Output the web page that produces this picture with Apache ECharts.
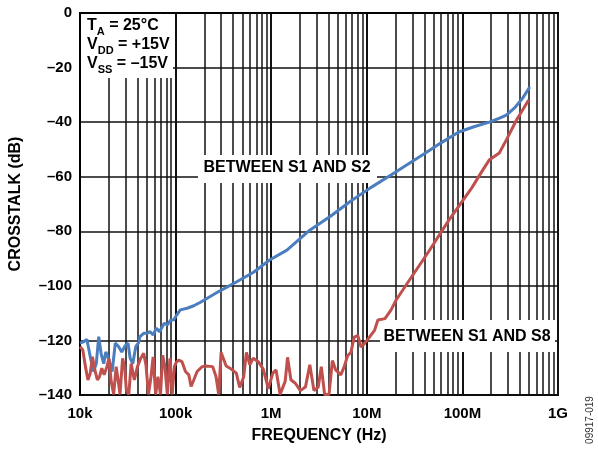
<!DOCTYPE html>
<html>
<head>
<meta charset="utf-8">
<script src="https://cdn.jsdelivr.net/npm/echarts@6/dist/echarts.min.js"></script>
<style>
html,body{margin:0;padding:0;background:#fff;}
#chart{width:598px;height:452px;}
</style>
</head>
<body>
<div id="chart"></div>
<script>
// ---- data (frequency in Hz, crosstalk in dB) ----
const freqS1S2 = [10000,11000,11800,12800,13800,14800,15700,16600,17700,18600,20100,21700,23400,25300,27300,29400,31800,33500,35600,38400,40800,42400,46300,50100,54100,58200,63000,67900,76000,82000,88700,95500,103000,112000,132000,155000,182000,285000,432000,653000,964000,1460000,2550000,4170000,6760000,11000000,17900000,41100000,60300000,91800000,132000000,191000000,245000000,288000000,351000000,427000000,506000000];
const xtalkS1S2 = [-121,-120.4,-119.6,-126,-131.4,-128.5,-118.6,-124.7,-128.5,-124.2,-127.2,-131.4,-121,-122.2,-124.2,-122.2,-121,-126.6,-128.5,-122.2,-121,-118.6,-117.4,-117.4,-116.8,-118,-115.5,-116.8,-113.7,-114.3,-112.5,-112.5,-110.6,-108.8,-108.2,-107.3,-106,-102,-98.6,-95,-90.5,-86.9,-79.5,-74.5,-69,-64,-59.4,-51.3,-47.5,-43.6,-41.7,-40,-38.5,-37.4,-34.8,-31.2,-27.1];

const freqS1S8 = [10000,10700,11400,12100,12800,13500,14300,15200,16000,16900,17900,19100,20100,21200,22500,23900,25300,26200,27900,29400,30500,32400,34300,37000,39900,43100,46300,49000,52000,55300,58200,61900,65300,69500,73300,77300,82000,87300,92000,97100,101600,107600,116700,126800,137400,145200,154900,167900,189700,207500,244300,264900,282500,299200,338100,381900,431500,467700,515200,550800,597000,648600,732800,826000,933300,1038000,1125000,1239000,1400000,1483000,1607000,1786000,2018000,2280000,2535000,2799000,3105000,3342000,3622000,4027000,4365000,4732000,5346000,5808000,6295000,6823000,7379000,8035000,8710000,9441000,10670000,12050000,13060000,15490000,17950000,20280000,27160000,44260000,71940000,125900000,157000000,190500000,243200000,288400000,368100000,493300000];
const xtalkS1S8 = [-122.3,-123.5,-129.6,-134.5,-132,-126,-130.8,-134.5,-133.3,-130.2,-132.6,-129.6,-126.6,-135,-139.8,-129.6,-135.7,-139.8,-126.6,-130.2,-138,-139.8,-128.5,-134.5,-129.6,-126.6,-124.7,-129,-139.8,-133.3,-126,-139.8,-133.3,-139.8,-125.4,-129.6,-139.8,-126.6,-139.8,-129.6,-128,-127.2,-127.8,-131.4,-132.6,-136.9,-134.5,-131.4,-129.6,-129.4,-129.6,-133.3,-139.8,-124.4,-129.4,-130.5,-132,-137.2,-133.4,-124.4,-128.9,-126.5,-127.8,-130.5,-137.7,-132,-130.8,-139.8,-135,-126.2,-134.4,-135.7,-138.4,-137.1,-128.9,-138.4,-137.1,-129.6,-139.8,-139.8,-127.4,-130.8,-132.6,-129.6,-125.6,-124.4,-118.8,-118.2,-122.4,-121.2,-118.8,-116.3,-112.5,-112,-108.8,-105.2,-98.5,-87.5,-76,-64,-58.5,-53.9,-51.3,-46.5,-39.2,-31.9];

const xTickValues = [1e4, 1e5, 1e6, 1e7, 1e8, 1e9];
const xTickLabels = ['10k', '100k', '1M', '10M', '100M', '1G'];
const yTicks = [0, -20, -40, -60, -80, -100, -120, -140];

// minor vertical grid positions (2..9 in each decade)
const minorGrid = [];
for (let d = 0; d < xTickValues.length - 1; d++) {
  for (let k = 2; k <= 9; k++) minorGrid.push(k * xTickValues[d]);
}

const FONT = 'Liberation Sans, Arial, sans-serif';
const chart = echarts.init(document.getElementById('chart'), null, {renderer: 'canvas'});

function pairs(xs, ys) { return xs.map((x, i) => [x, ys[i]]); }
function txt(x, y, s, size, align) {
  return {type: 'text', z: 7, x: x, y: y, style: {text: s, font: 'bold ' + size + 'px ' + FONT, fill: '#000', textAlign: align || 'left', textVerticalAlign: 'middle'}};
}

const option = {
  animation: false,
  backgroundColor: '#fff',
  grid: {left: 79, right: 40, top: 13, bottom: 57, show: true, borderColor: '#000', borderWidth: 2, backgroundColor: 'transparent'},
  xAxis: {
    type: 'log', logBase: 10, min: xTickValues[0], max: xTickValues[xTickValues.length - 1],
    splitNumber: 5,
    name: 'FREQUENCY (Hz)', nameLocation: 'middle', nameGap: 33,
    nameTextStyle: {fontFamily: FONT, fontWeight: 'bold', fontSize: 16, color: '#000'},
    axisLine: {show: true, lineStyle: {color: '#000', width: 2}},
    axisTick: {show: false},
    axisLabel: {
      margin: 11, fontFamily: FONT, fontWeight: 'bold', fontSize: 15, color: '#000',
      formatter: v => { const i = xTickValues.findIndex(t => Math.abs(Math.log10(t) - Math.log10(v)) < 1e-6); return i >= 0 ? xTickLabels[i] : ''; }
    },
    splitLine: {show: true, lineStyle: {color: '#111', width: 2}}
  },
  yAxis: {
    type: 'value', min: yTicks[yTicks.length - 1], max: yTicks[0], interval: 20,
    name: 'CROSSTALK (dB)', nameLocation: 'middle', nameGap: 56, nameRotate: 90,
    nameTextStyle: {fontFamily: FONT, fontWeight: 'bold', fontSize: 16, color: '#000'},
    axisLine: {show: true, lineStyle: {color: '#000', width: 2}},
    axisTick: {show: false},
    axisLabel: {
      margin: 8, fontFamily: FONT, fontWeight: 'bold', fontSize: 15, color: '#000',
      formatter: v => String(v).replace('-', '\u2013')
    },
    splitLine: {show: true, lineStyle: {color: '#111', width: 1.6}}
  },
  graphic: [
    {type: 'rect', z: 6, shape: {x: 81, y: 14, width: 92, height: 64}, style: {fill: '#fff'}},
    txt(87, 26, 'T', 16), txt(96.8, 32, 'A', 11), txt(104.7, 26, ' = 25°C', 16),
    txt(87, 45, 'V', 16), txt(97.7, 51, 'DD', 11), txt(113.6, 45, ' = +15V', 16),
    txt(87, 64, 'V', 16), txt(97.7, 70, 'SS', 11), txt(112.4, 64, ' = \u201315V', 16),
    {type: 'rect', z: 6, shape: {x: 198, y: 155, width: 179, height: 28}, style: {fill: '#fff'}},
    txt(287, 168, 'BETWEEN S1 AND S2', 16, 'center'),
    {type: 'rect', z: 6, shape: {x: 380, y: 320, width: 175, height: 32}, style: {fill: '#fff'}},
    txt(467, 337, 'BETWEEN S1 AND S8', 16, 'center'),
    {type: 'text', z: 7, x: 590, y: 420, rotation: Math.PI / 2, style: {text: '09917-019', font: '10px ' + FONT, fill: '#333', textAlign: 'center', textVerticalAlign: 'middle'}}
  ],
  series: [
    {
      type: 'line', name: 'grid', data: [], z: 0, silent: true,
      markLine: {
        silent: true, symbol: 'none', label: {show: false}, animation: false, z: 1,
        lineStyle: {color: '#111', width: 1.5, type: 'solid'},
        data: minorGrid.map(v => ({xAxis: v}))
      }
    },
    {
      type: 'line', name: 'BETWEEN S1 AND S2', data: pairs(freqS1S2, xtalkS1S2), z: 10,
      showSymbol: false, symbol: 'none', lineStyle: {color: '#4a7ebf', width: 3}, itemStyle: {color: '#4a7ebf'}
    },
    {
      type: 'line', name: 'BETWEEN S1 AND S8', data: pairs(freqS1S8, xtalkS1S8), z: 10,
      showSymbol: false, symbol: 'none', lineStyle: {color: '#c0504d', width: 3}, itemStyle: {color: '#c0504d'}
    }
  ]
};
chart.setOption(option);
</script>
</body>
</html>
